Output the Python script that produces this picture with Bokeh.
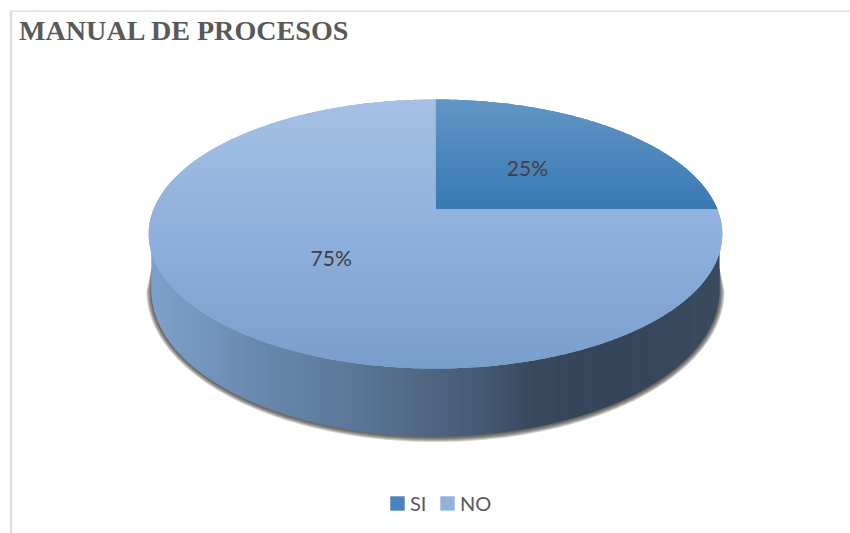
import numpy as np
from bokeh.core.properties import value
from bokeh.embed import file_html
from bokeh.models import Legend, LegendItem, Range1d
from bokeh.plotting import figure
from bokeh.resources import INLINE

title = "MANUAL DE PROCESOS"
categories = ["SI", "NO"]
percent = [25, 75]
labels = ["25%", "75%"]
legend_colors = ["#4A84BC", "#92B2DC"]
top_stops = [
    [(99, "#6096C6"), (209, "#3A78B4")],
    [(99, "#A5C0E3"), (233, "#8FB0DC"), (368, "#7A9ECC")],
]
side_stops = [(148, "#7FA1CB"), (250, "#6A8AB0"), (350, "#5B7898"), (435, "#4D6480"),
              (480, "#455A73"), (535, "#37485C"), (620, "#36465A"), (722, "#3B4B5F")]

W, H = 850, 533
CX, APEX_Y = 435, 209
DX, PERSP, AY = 282, 49 / 269, -92
BOT_CX, BOT_CY, BOT_RX, BOT_RY = 435, 290, 284, 146
WALL_TOP_Y, SHADOW_TOP_Y = 250, 268


def project(X, Y):
    w = 1 + PERSP * Y
    return CX + DX * X / w, (AY * Y + APEX_Y) / w


def sector(a0, a1):
    t = np.radians(np.linspace(a0, a1, max(int((a1 - a0) * 2), 8)))
    x, y = project(np.sin(t), np.cos(t))
    ax, ay = project(0.0, 0.0)
    return np.r_[ax, x], np.r_[ay, y]


def clip(px, py, axis, lo, hi):
    pts = np.c_[px, py]
    for sign, lim in ((1, lo), (-1, hi)):
        out = []
        n = len(pts)
        for i in range(n):
            a, b = pts[i], pts[(i + 1) % n]
            da, db = sign * (a[axis] - lim), sign * (b[axis] - lim)
            if da >= 0:
                out.append(a)
            if da * db < 0:
                out.append(a + (b - a) * da / (da - db))
        if not out:
            return None
        pts = np.array(out)
    return pts[:, 0], pts[:, 1]


def mix(stops, v):
    pos = [s[0] for s in stops]
    rgb = [[int(s[1][i:i + 2], 16) for s in stops] for i in (1, 3, 5)]
    c = [int(round(np.interp(v, pos, ch))) for ch in rgb]
    return "#%02x%02x%02x" % tuple(c)


p = figure(width=W, height=H, x_range=Range1d(0, W), y_range=Range1d(H, 0),
           output_backend="svg", toolbar_location=None, min_border=0, outline_line_color=None,
           x_axis_type=None, y_axis_type=None, background_fill_color="white",
           border_fill_color="white")
p.grid.visible = False

# chart frame
p.line([10.5, 10.5], [H, 10], line_color="#DEDEDE", line_width=2.5)
p.line([10, W], [10.8, 10.8], line_color="#DEDEDE", line_width=1.5)

# soft shadow under the pie
tt = np.linspace(0, np.pi, 160)
for k in (5, 4, 3, 2, 1):
    x_arc = BOT_CX + (BOT_RX + k) * np.cos(tt)
    y_arc = BOT_CY + (BOT_RY + k) * np.sin(tt) + 0.5
    p.patch(np.r_[x_arc, BOT_CX - BOT_RX, BOT_CX + BOT_RX],
            np.r_[y_arc, SHADOW_TOP_Y, SHADOW_TOP_Y],
            fill_color="#2A2520", fill_alpha=0.2, line_color=None)

# side wall, shaded from left to right
x_arc = BOT_CX + BOT_RX * np.cos(tt)
y_arc = BOT_CY + BOT_RY * np.sin(tt)
wall_x = np.r_[x_arc, BOT_CX - BOT_RX, BOT_CX + BOT_RX]
wall_y = np.r_[y_arc, WALL_TOP_Y, WALL_TOP_Y]
xs, ys, cs = [], [], []
for x0 in np.arange(148, 722, 3.0):
    r = clip(wall_x, wall_y, 0, x0, x0 + 3.7)
    if r is not None:
        xs.append(list(r[0])); ys.append(list(r[1])); cs.append(mix(side_stops, x0 + 1.5))
p.patches(xs, ys, fill_color=cs, line_color=None)

# top face
angles = np.cumsum([0] + percent) * 3.6
items = []
for i, name in enumerate(categories):
    sx, sy = sector(angles[i], angles[i + 1])
    base = p.patch(sx, sy, fill_color=legend_colors[i], line_color=None)
    items.append(LegendItem(label=name, renderers=[base]))
    xs, ys, cs = [], [], []
    for y0 in np.arange(sy.min(), sy.max(), 2.0):
        r = clip(sx, sy, 1, y0, y0 + 2.7)
        if r is not None:
            xs.append(list(r[0])); ys.append(list(r[1])); cs.append(mix(top_stops[i], y0 + 1))
    p.patches(xs, ys, fill_color=cs, line_color=None)

# percentage labels at the middle of each slice
mids = np.radians((angles[:-1] + angles[1:]) / 2)
lx, ly = project(0.49 * np.sin(mids), 0.49 * np.cos(mids))
p.text(list(lx), list(ly), text=labels, text_font=value("Lato"), text_font_size="21px",
       text_color="#404040", text_align="center", text_baseline="middle")

p.text([18.5], [30], text=[title], text_font=value("Liberation Serif"), text_font_size="28.1px",
       text_font_style="bold", text_color="#595959", text_align="left", text_baseline="middle")

legend = Legend(items=items, orientation="horizontal", location=(388, 18),
                label_text_font="Lato", label_text_font_size="20px", label_text_color="#595959",
                glyph_width=18, glyph_height=18, label_standoff=4, spacing=8, padding=0, margin=0,
                background_fill_alpha=0, border_line_alpha=0)
p.add_layout(legend, "center")

open("out.html", "w").write(file_html(p, INLINE))
